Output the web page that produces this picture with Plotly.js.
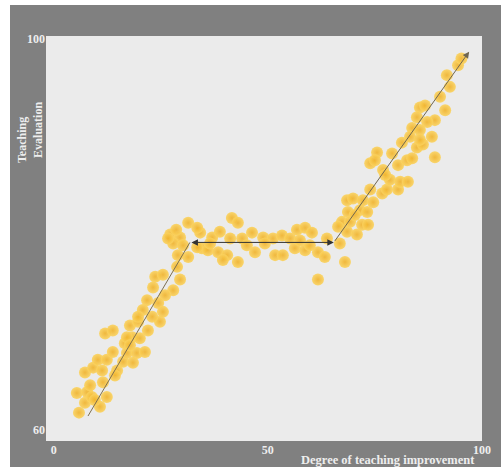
<!DOCTYPE html>
<html>
<head>
<meta charset="utf-8">
<script src="https://cdn.plot.ly/plotly-3.0.1.min.js"></script>
<style>
html,body{margin:0;padding:0;background:#ffffff;}
#chart{position:absolute;left:10px;top:5px;width:491px;height:462px;}
</style>
</head>
<body>
<div id="chart"></div>
<script>
// Data (degree of teaching improvement vs teaching evaluation)
const improvement = [
 5.9,7.3,5.4,7.8,8.9,10.8,12.4,8.5,7.3,9.2,11.5,11.3,10.3,12.4,13.8,14.8,16.2,17.1,19.4,21.3,
 18.5,16.6,18.3,20.1,12.0,13.8,17.8,22.0,24.8,19.7,
 27.2,29.5,27.9,30.2,34.2,34.6,29.0,31.4,28.8,23.7,25.5,29.5,23.2,27.9,26.0,21.8,24.4,20.8,25.5,23.0,19.7,17.1,
 31.4,33.5,41.6,43.0,37.0,38.8,41.2,44.0,46.3,48.9,33.5,36.0,38.4,40.5,43.0,39.5,45.1,47.0,
 51.2,53.3,55.2,56.8,58.7,60.3,63.8,51.7,53.5,56.3,58.7,61.7,63.3,66.8,68.0,61.7,67.3,68.7,
 66.4,68.5,70.8,69.2,72.0,73.4,68.5,69.9,71.5,73.2,72.2,74.6,73.9,76.7,77.8,78.5,80.4,80.9,82.7,
 73.9,75.5,76.9,79.0,80.4,82.5,83.7,81.3,84.8,
 94.4,91.8,92.5,90.2,91.4,85.5,86.7,84.8,89.0,87.2,83.7,85.5,88.3,83.2,86.2,75.0,89.0,95.2,
 26.7,28.6,36.5,49.3,57.5,59.8,70.3,77.4,85.5,17.8,14.3,9.6
];
const evaluation = [
 61.8,62.8,63.8,63.9,63.4,62.4,63.4,64.6,65.9,66.4,64.9,66.1,67.2,67.2,68.0,66.1,67.0,67.9,67.9,68.0,
 66.9,68.9,69.5,69.4,69.9,70.2,70.7,70.2,71.1,71.1,
 80.0,79.7,79.1,78.9,80.2,78.6,77.9,77.7,76.7,75.7,75.9,75.4,74.6,74.3,73.8,73.3,73.0,72.3,72.1,71.6,71.6,69.5,
 81.2,80.7,81.7,81.2,79.7,80.3,79.6,79.6,80.2,79.7,78.7,78.4,78.2,77.9,77.2,77.4,78.9,78.2,
 79.6,79.9,79.6,80.5,80.7,80.2,79.6,77.9,77.9,78.6,78.4,78.2,77.7,79.1,77.2,75.4,81.3,82.3,
 80.8,80.3,80.0,81.3,81.0,81.0,83.5,83.7,82.5,82.3,83.5,83.3,84.6,84.2,84.6,85.6,84.6,85.4,85.4,
 87.3,88.4,86.6,88.3,87.1,87.6,87.8,89.4,88.9,
 97.3,96.3,95.1,94.1,92.7,93.0,93.2,92.0,91.7,91.5,90.9,90.7,90.0,90.0,89.2,87.6,87.9,98.0,
 79.6,80.5,79.1,79.1,79.4,78.9,82.0,86.1,89.7,68.7,65.6,63.1
];
// Trend arrows: start and end points
const arrowStartX = [7.8, 31.8, 65.4];
const arrowStartY = [61.3, 79.2, 79.2];
const arrowEndX = [31.8, 65.4, 97.0];
const arrowEndY = [79.2, 79.2, 98.7];
const arrowSides = ['none', 'end+start', 'end'];
const arrowColors = ['#7d6f4f', '#333333', '#6f6650'];
// Axis ticks
const xTickVals = [0, 50, 100];
const xTickText = ['0', '50', '100'];
const yTickVals = [60, 100];
const yTickText = ['60', '100'];
const xTitle = 'Degree of teaching improvement';
const yTitleLines = ['Teaching', 'Evaluation'];

const serif = 'Liberation Serif, Times New Roman, serif';
const light = '#eeeeee';

const trace = {
  type: 'scatter', mode: 'markers',
  x: improvement, y: evaluation,
  marker: {
    size: 12, color: '#fbd35f', opacity: 0.9,
    gradient: {type: 'radial', color: '#f0b22a'},
    line: {width: 0}
  },
  hoverinfo: 'skip'
};

const annotations = arrowStartX.map((sx, i) => ({
  x: arrowEndX[i], y: arrowEndY[i], ax: sx, ay: arrowStartY[i],
  xref: 'x', yref: 'y', axref: 'x', ayref: 'y',
  showarrow: true, text: '',
  arrowhead: arrowSides[i] === 'none' ? 0 : 2,
  startarrowhead: 2,
  arrowside: arrowSides[i] === 'none' ? 'end' : arrowSides[i],
  arrowsize: 1.3, startarrowsize: 1.3, arrowwidth: 1,
  arrowcolor: arrowColors[i], standoff: 0, startstandoff: 0
}));

annotations.push({
  xref: 'paper', yref: 'paper', x: 0.9885, y: -0.047,
  xanchor: 'right', yanchor: 'middle', showarrow: false,
  text: xTitle, font: {family: serif, size: 12.5, color: light, weight: 'bold'}
});
annotations.push({
  xref: 'paper', yref: 'paper', x: 0, y: 0.743, xshift: -24,
  xanchor: 'center', yanchor: 'middle', showarrow: false, textangle: -90,
  text: yTitleLines[0], font: {family: serif, size: 12, color: light, weight: 'bold'}
});
annotations.push({
  xref: 'paper', yref: 'paper', x: 0, y: 0.768, xshift: -8,
  xanchor: 'center', yanchor: 'middle', showarrow: false, textangle: -90,
  text: yTitleLines[1], font: {family: serif, size: 12, color: light, weight: 'bold'}
});

const layout = {
  width: 491, height: 462,
  margin: {l: 36, r: 19, t: 31, b: 26},
  paper_bgcolor: '#808080', plot_bgcolor: '#ebebeb',
  showlegend: false,
  xaxis: {
    range: [-1.8, 100], tickvals: xTickVals, ticktext: xTickText,
    showgrid: false, zeroline: false, showline: false, ticks: '',
    tickfont: {family: serif, size: 12, color: light, weight: 'bold'}
  },
  yaxis: {
    range: [58.9, 100.3], tickvals: yTickVals, ticktext: yTickText,
    showgrid: false, zeroline: false, showline: false, ticks: '',
    tickfont: {family: serif, size: 12, color: light, weight: 'bold'}
  },
  annotations: annotations
};

Plotly.newPlot('chart', [trace], layout, {displayModeBar: false, staticPlot: true});
</script>
</body>
</html>
